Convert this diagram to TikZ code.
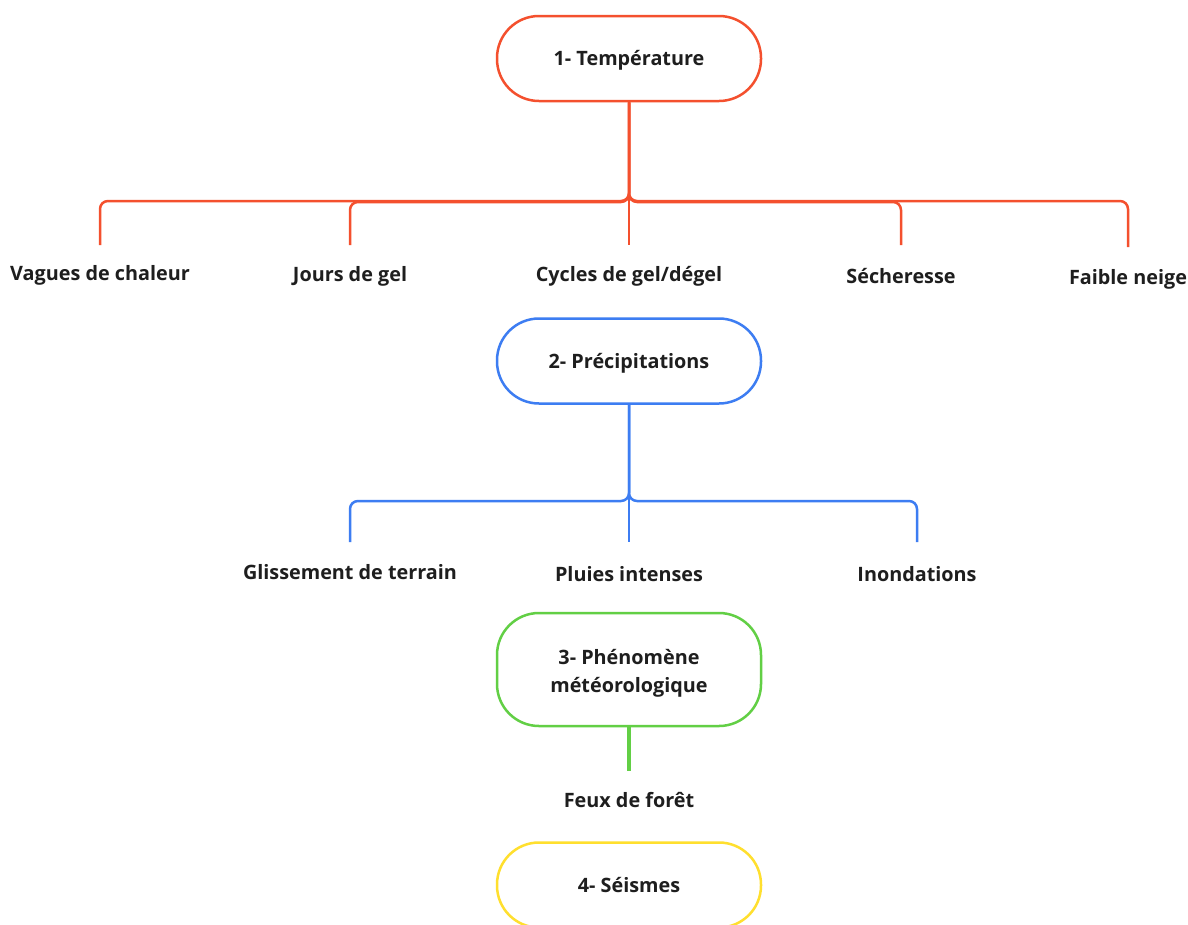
\documentclass[tikz,border=0pt]{standalone}
\usepackage{fontspec}
\setmainfont{Open Sans}[BoldFont={* Bold}]
\definecolor{cred}{HTML}{F4502E}
\definecolor{cblue}{HTML}{3D7DF2}
\definecolor{cgreen}{HTML}{62CF45}
\definecolor{cyel}{HTML}{FFDF2E}
\definecolor{ctext}{HTML}{1E1E1E}
\newcommand{\boxtxt}[2]{\raisebox{#1}[0pt][0pt]{\begin{tabular}[t]{@{}c@{}}#2\end{tabular}}}
\begin{document}
\begin{tikzpicture}[x=1pt,y=-1pt,
  box/.style={draw, line width=2.5pt, fill=white, rounded corners=42pt,
    minimum width=264pt, minimum height=85pt, align=center,
    font=\fontsize{19.8}{28}\selectfont\bfseries, text=ctext, inner sep=0pt},
  lbl/.style={font=\fontsize{19.8}{24}\selectfont\bfseries, text=ctext, inner sep=0pt},
  br/.style={line width=2.5pt, rounded corners=8pt}]
\useasboundingbox (0,0) rectangle (1188,924);
\fill[white] (0,0) rectangle (1188,924);

% Level 1
\node[box, draw=cred] (n1) at (629,58.5) {\boxtxt{-7pt}{1- Température}};
\coordinate (t1) at (100,245);
\coordinate (t2) at (350,245);
\coordinate (t3) at (629,245);
\coordinate (t4) at (901,245);
\coordinate (t5) at (1128,247);
\draw[br, cred] (n1.south) |- (100,201) -- (t1);
\draw[br, cred] (n1.south) |- (350,202) -- (t2);
\draw[br, cred] (n1.south) |- (901,202) -- (t4);
\draw[br, cred] (n1.south) |- (1128,201) -- (t5);
\draw[br, cred] (n1.south) -- (t3);
\node[lbl] (a1) at (100,275) {Vagues de chaleur};
\node[lbl] (a2) at (350,276) {Jours de gel};
\node[lbl] (a3) at (629,276) {Cycles de gel/dégel};
\node[lbl] (a4) at (901,276) {Sécheresse};
\node[lbl] (a5) at (1128,279) {Faible neige};

% Level 2
\node[box, draw=cblue] (n2) at (629,361) {\boxtxt{-7pt}{2- Précipitations}};
\coordinate (u1) at (350,542);
\coordinate (u2) at (629,542);
\coordinate (u3) at (917,542);
\draw[br, cblue] (n2.south) |- (350,501) -- (u1);
\draw[br, cblue] (n2.south) |- (917,501) -- (u3);
\draw[br, cblue] (n2.south) -- (u2);
\node[lbl] (b1) at (350,572) {Glissement de terrain};
\node[lbl] (b2) at (629,574) {Pluies intenses};
\node[lbl] (b3) at (917,574) {Inondations};

% Level 3
\node[box, draw=cgreen, minimum height=113pt] (n3) at (629,669.5) {\boxtxt{5.5pt}{3- Phénomène\\météorologique}};
\coordinate (v1) at (629,771);
\draw[line width=3.5pt, cgreen] (n3.south) -- (v1);
\node[lbl] (c1) at (629,800) {Feux de forêt};

% Level 4
\node[box, draw=cyel] (n4) at (629,885) {\boxtxt{-7pt}{4- Séismes}};
\end{tikzpicture}
\end{document}
